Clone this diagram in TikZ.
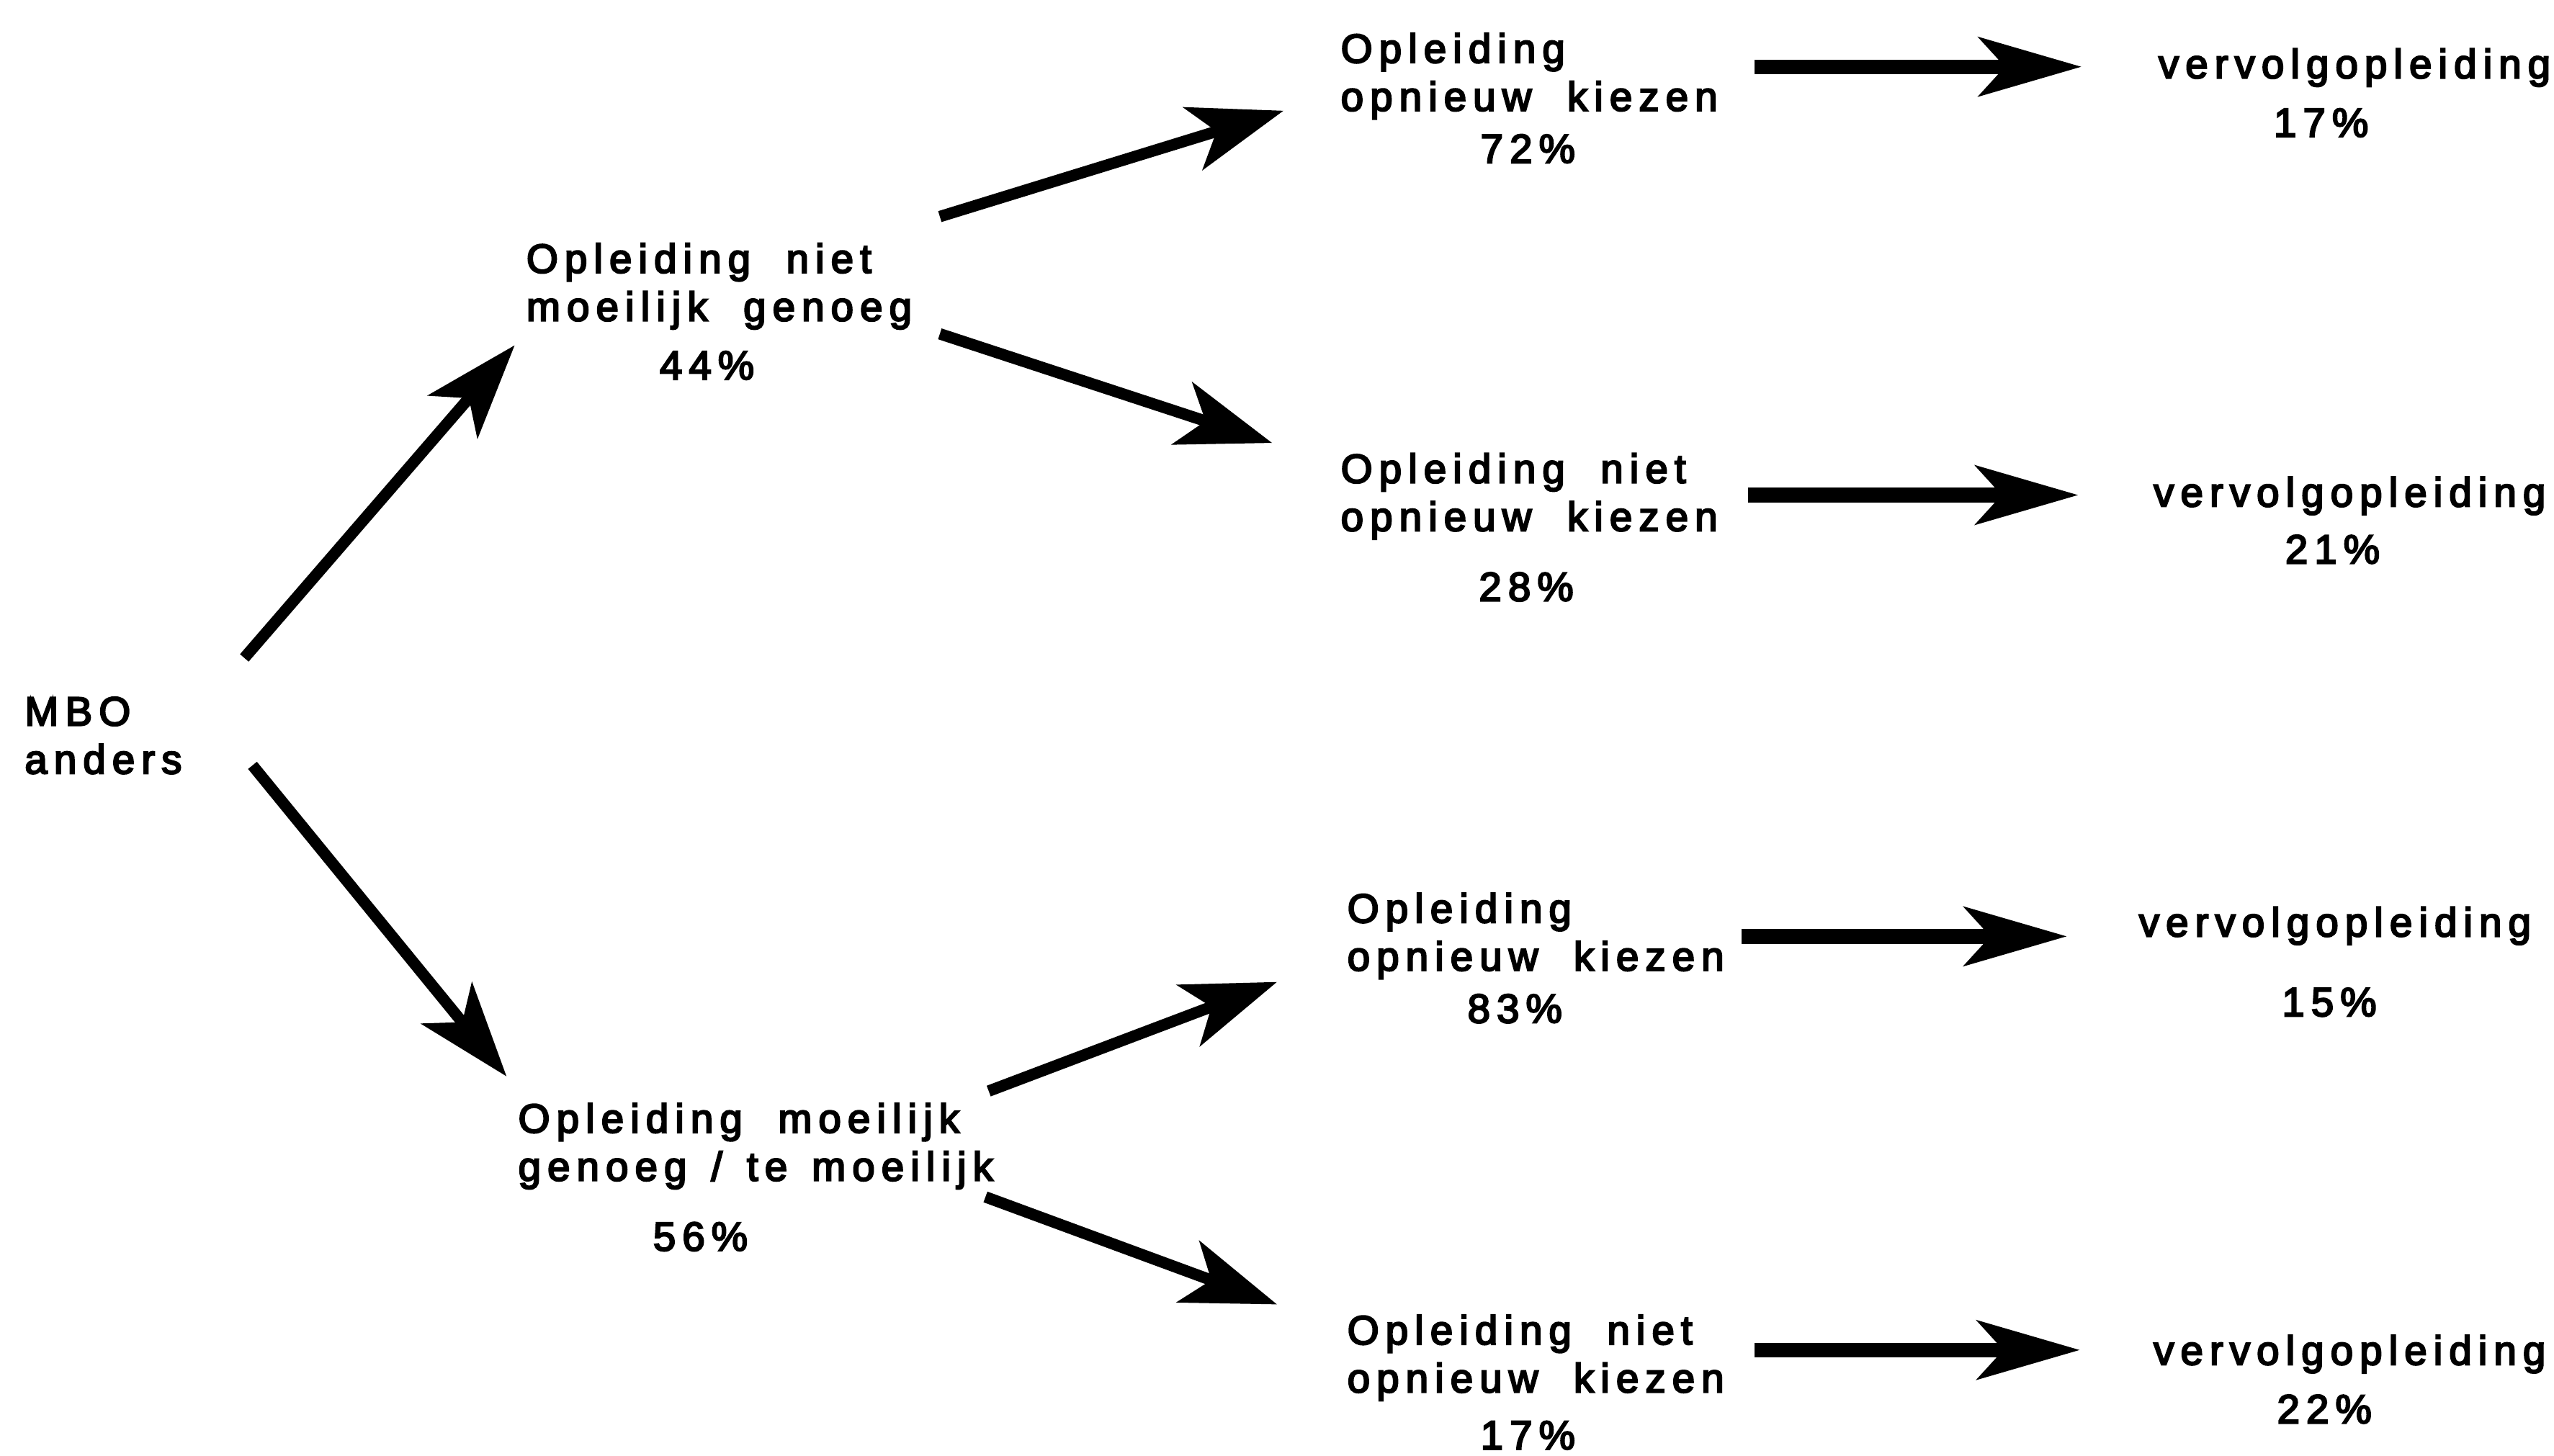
\documentclass[tikz,border=0pt]{standalone}
\usepackage{fontspec}
\setmainfont{Liberation Sans}[LetterSpace=16,FakeBold=4,WordSpace=2]
\usetikzlibrary{arrows.meta}
\begin{document}
\begin{tikzpicture}[x=1pt,y=-1pt,
  lbl/.style={inner sep=0pt, anchor=base west, align=left, font=\fontsize{25}{29.5}\selectfont},
  pct/.style={inner sep=0pt, anchor=base, font=\fontsize{25}{29.5}\selectfont},
  diag/.style={line width=7pt, -{Stealth[length=58pt,width=40pt,inset=15pt]}},
  horiz/.style={line width=9pt, -{Stealth[length=63pt,width=36pt,inset=16pt]}}]
\useasboundingbox (0,0) rectangle (1568,894);
% labels (anchor = baseline of last line)
\node[lbl] (mbo) at (15,475) {MBO\\anders};
\node[lbl] (a) at (323,197) {Opleiding niet\\moeilijk genoeg};
\node[pct] (ap) at (434,233) {44\%};
\node[lbl] (b) at (318,725) {Opleiding moeilijk\\genoeg\hspace{15pt}/\hspace{15pt}te\hspace{15pt}moeilijk};
\node[pct] (bp) at (430,768) {56\%};
\node[lbl] (a1) at (823,68) {Opleiding\\opnieuw kiezen};
\node[pct] (a1p) at (938,100) {72\%};
\node[lbl] (a2) at (823,326) {Opleiding niet\\opnieuw kiezen};
\node[pct] (a2p) at (937,369) {28\%};
\node[lbl] (b1) at (827,596) {Opleiding\\opnieuw kiezen};
\node[pct] (b1p) at (930,628) {83\%};
\node[lbl] (b2) at (827,855) {Opleiding niet\\opnieuw kiezen};
\node[pct] (b2p) at (938,890) {17\%};
\node[lbl] (v1) at (1325,48) {vervolgopleiding};
\node[pct] (v1p) at (1425,84) {17\%};
\node[lbl] (v2) at (1322,311) {vervolgopleiding};
\node[pct] (v2p) at (1432,346) {21\%};
\node[lbl] (v3) at (1313,575) {vervolgopleiding};
\node[pct] (v3p) at (1430,624) {15\%};
\node[lbl] (v4) at (1322,838) {vervolgopleiding};
\node[pct] (v4p) at (1427,874) {22\%};
% arrow ends
\coordinate (s1) at (150,404); \coordinate (e1) at (316,212);
\coordinate (s2) at (155,470); \coordinate (e2) at (311,661);
\coordinate (s3) at (577,133); \coordinate (e3) at (788,68);
\coordinate (s4) at (577,205); \coordinate (e4) at (781,272);
\coordinate (s5) at (607,670); \coordinate (e5) at (784,603);
\coordinate (s6) at (605,735); \coordinate (e6) at (784,801);
\coordinate (h1s) at (1077,41); \coordinate (h1e) at (1278,41);
\coordinate (h2s) at (1073,304); \coordinate (h2e) at (1276,304);
\coordinate (h3s) at (1069,575); \coordinate (h3e) at (1269,575);
\coordinate (h4s) at (1077,829); \coordinate (h4e) at (1277,829);
\draw[diag] (s1) -- (e1);
\draw[diag] (s2) -- (e2);
\draw[diag] (s3) -- (e3);
\draw[diag] (s4) -- (e4);
\draw[diag] (s5) -- (e5);
\draw[diag] (s6) -- (e6);
\draw[horiz] (h1s) -- (h1e);
\draw[horiz] (h2s) -- (h2e);
\draw[horiz] (h3s) -- (h3e);
\draw[horiz] (h4s) -- (h4e);
\end{tikzpicture}
\end{document}
